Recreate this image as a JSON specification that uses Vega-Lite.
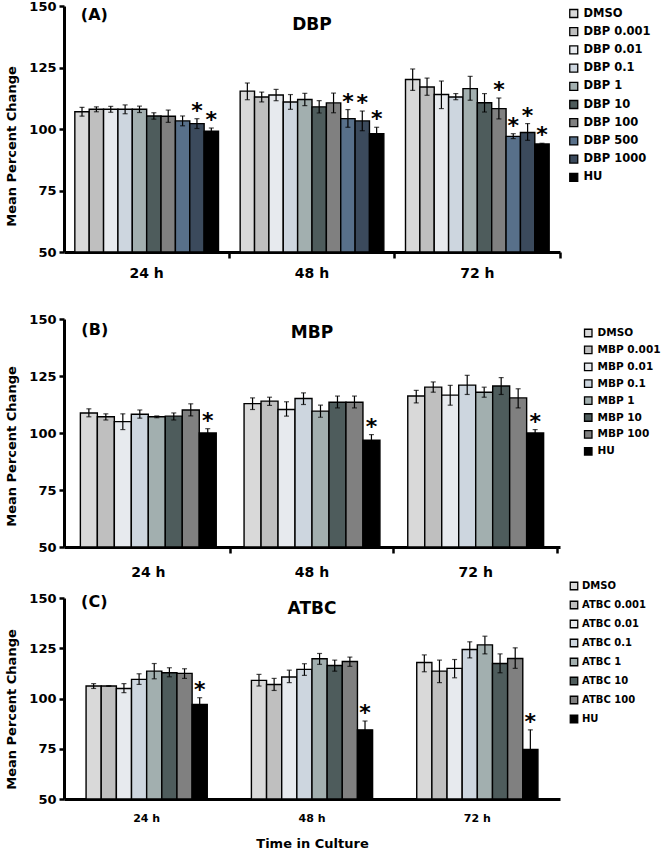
{
  "$schema": "https://vega.github.io/schema/vega-lite/v6.json",
  "background": "white",
  "padding": {"left": 5, "top": 0, "right": 0, "bottom": 0},
  "config": {
    "view": {"stroke": null},
    "axis": {"domainColor": "black", "tickColor": "black", "labelColor": "black", "titleColor": "black", "labelFont": "DejaVu Sans", "titleFont": "DejaVu Sans", "labelFontWeight": "bold", "titleFontWeight": "bold", "grid": false},
    "legend": {"labelFont": "DejaVu Sans", "labelFontWeight": "bold", "labelColor": "black", "symbolType": "square", "symbolStrokeColor": "black", "symbolStrokeWidth": 1.3, "padding": 0},
    "text": {"font": "DejaVu Sans", "fontWeight": "bold", "color": "black"}
  },
  "spacing": 67,
  "bounds": "flush",
  "resolve": {"scale": {"fill": "independent", "x": "independent", "xOffset": "independent", "y": "independent"}, "legend": {"fill": "independent"}},
  "vconcat": [
    {
      "width": 496, "height": 246,
      "data": {"values": [
        {"t": "24 h", "g": "DMSO", "m": 107, "lo": 105.2, "hi": 108.8, "s": false},
        {"t": "24 h", "g": "DBP 0.001", "m": 108, "lo": 107, "hi": 109, "s": false},
        {"t": "24 h", "g": "DBP 0.01", "m": 108, "lo": 106.8, "hi": 109.2, "s": false},
        {"t": "24 h", "g": "DBP 0.1", "m": 108, "lo": 106.2, "hi": 109.8, "s": false},
        {"t": "24 h", "g": "DBP 1", "m": 108, "lo": 106.7, "hi": 109.3, "s": false},
        {"t": "24 h", "g": "DBP 10", "m": 105.3, "lo": 104, "hi": 106.6, "s": false},
        {"t": "24 h", "g": "DBP 100", "m": 105.2, "lo": 102.7, "hi": 107.7, "s": false},
        {"t": "24 h", "g": "DBP 500", "m": 103.3, "lo": 101.3, "hi": 105.3, "s": false},
        {"t": "24 h", "g": "DBP 1000", "m": 102.2, "lo": 100.2, "hi": 104.2, "s": true},
        {"t": "24 h", "g": "HU", "m": 99.1, "lo": 97.8, "hi": 100.4, "s": true},
        {"t": "48 h", "g": "DMSO", "m": 115.4, "lo": 111.9, "hi": 118.7, "s": false},
        {"t": "48 h", "g": "DBP 0.001", "m": 113, "lo": 111, "hi": 115, "s": false},
        {"t": "48 h", "g": "DBP 0.01", "m": 113.8, "lo": 111.5, "hi": 116.1, "s": false},
        {"t": "48 h", "g": "DBP 0.1", "m": 111, "lo": 108, "hi": 114, "s": false},
        {"t": "48 h", "g": "DBP 1", "m": 112, "lo": 109.5, "hi": 114.5, "s": false},
        {"t": "48 h", "g": "DBP 10", "m": 109, "lo": 106.5, "hi": 111.5, "s": false},
        {"t": "48 h", "g": "DBP 100", "m": 110.6, "lo": 106.6, "hi": 114.6, "s": false},
        {"t": "48 h", "g": "DBP 500", "m": 104.2, "lo": 100.7, "hi": 107.9, "s": true},
        {"t": "48 h", "g": "DBP 1000", "m": 103.3, "lo": 99.3, "hi": 107.3, "s": true},
        {"t": "48 h", "g": "HU", "m": 98.1, "lo": 95.6, "hi": 100.7, "s": true},
        {"t": "72 h", "g": "DMSO", "m": 120.1, "lo": 115.7, "hi": 124.4, "s": false},
        {"t": "72 h", "g": "DBP 0.001", "m": 117.1, "lo": 113.7, "hi": 120.7, "s": false},
        {"t": "72 h", "g": "DBP 0.01", "m": 114, "lo": 108.3, "hi": 119.5, "s": false},
        {"t": "72 h", "g": "DBP 0.1", "m": 113, "lo": 111.9, "hi": 114.4, "s": false},
        {"t": "72 h", "g": "DBP 1", "m": 116.4, "lo": 111.7, "hi": 121.4, "s": false},
        {"t": "72 h", "g": "DBP 10", "m": 110.7, "lo": 106.9, "hi": 114.4, "s": false},
        {"t": "72 h", "g": "DBP 100", "m": 108.3, "lo": 104.1, "hi": 112.6, "s": true},
        {"t": "72 h", "g": "DBP 500", "m": 97, "lo": 96.1, "hi": 98.1, "s": true},
        {"t": "72 h", "g": "DBP 1000", "m": 98.6, "lo": 95.4, "hi": 102.2, "s": true},
        {"t": "72 h", "g": "HU", "m": 93.9, "lo": 93.6, "hi": 94.2, "s": true}
      ]},
      "layer": [
        {
          "mark": {"type": "bar", "stroke": "black", "strokeWidth": 1.4},
          "encoding": {
            "x": {"field": "t", "type": "nominal", "scale": {"paddingInner": 0.131, "paddingOuter": 0.0655},
                  "axis": {"title": null, "labelAngle": 0, "labelFontSize": 14, "labelPadding": 8, "tickSize": 6, "tickWidth": 2.5, "bandPosition": 1.0754, "domainWidth": 3}},
            "xOffset": {"field": "g", "type": "nominal", "scale": {"domain": ["DMSO", "DBP 0.001", "DBP 0.01", "DBP 0.1", "DBP 1", "DBP 10", "DBP 100", "DBP 500", "DBP 1000", "HU"], "paddingInner": 0, "paddingOuter": 0}},
            "y": {"field": "m", "type": "quantitative", "scale": {"domain": [50, 150], "nice": false, "zero": false},
                  "axis": {"values": [50, 75, 100, 125, 150], "title": "Mean Percent Change", "titleFontSize": 13, "titlePadding": 10, "titleY": 140, "labelFontSize": 13, "labelPadding": 3, "tickSize": 5, "tickWidth": 2.5, "domainWidth": 3}},
            "y2": {"datum": 50},
            "fill": {"field": "g", "type": "nominal",
                     "scale": {"domain": ["DMSO", "DBP 0.001", "DBP 0.01", "DBP 0.1", "DBP 1", "DBP 10", "DBP 100", "DBP 500", "DBP 1000", "HU"],
                               "range": ["#d9d9d9", "#bfbfbf", "#e7eaee", "#cdd6df", "#a2afaf", "#4e5c5c", "#808080", "#58708a", "#3b4a5c", "#000000"]},
                     "legend": {"orient": "none", "legendX": 504, "legendY": 1.5, "title": null, "symbolSize": 64, "labelFontSize": 11.5, "clipHeight": 12, "rowPadding": 6.2, "labelOffset": 4}}
          }
        },
        {
          "mark": {"type": "rule", "color": "black", "strokeWidth": 1.2},
          "encoding": {"x": {"field": "t", "type": "nominal"}, "xOffset": {"field": "g", "type": "nominal"}, "y": {"field": "lo", "type": "quantitative"}, "y2": {"field": "hi"}}
        },
        {
          "mark": {"type": "tick", "color": "black", "size": 5, "thickness": 1.2},
          "encoding": {"x": {"field": "t", "type": "nominal"}, "xOffset": {"field": "g", "type": "nominal"}, "y": {"field": "lo", "type": "quantitative"}}
        },
        {
          "mark": {"type": "tick", "color": "black", "size": 5, "thickness": 1.2},
          "encoding": {"x": {"field": "t", "type": "nominal"}, "xOffset": {"field": "g", "type": "nominal"}, "y": {"field": "hi", "type": "quantitative"}}
        },
        {
          "transform": [{"filter": "datum.s"}],
          "mark": {"type": "text", "text": "*", "fontSize": 22, "baseline": "alphabetic", "dy": -1},
          "encoding": {"x": {"field": "t", "type": "nominal"}, "xOffset": {"field": "g", "type": "nominal"}, "y": {"field": "hi", "type": "quantitative"}}
        },
        {
          "data": {"values": [{"l": "(A)"}]},
          "mark": {"type": "text", "fontSize": 16, "align": "left", "baseline": "top", "dx": 6, "dy": 1},
          "encoding": {"x": {"datum": "24 h", "bandPosition": 0}, "y": {"datum": 150, "type": "quantitative"}, "text": {"field": "l"}}
        },
        {
          "data": {"values": [{"l": "DBP"}]},
          "mark": {"type": "text", "fontSize": 17, "align": "center", "baseline": "top", "dy": 11},
          "encoding": {"x": {"datum": "48 h"}, "y": {"datum": 150, "type": "quantitative"}, "text": {"field": "l"}}
        }
      ]
    },
    {
      "spacing": 51,
      "bounds": "flush",
      "resolve": {"scale": {"fill": "independent", "x": "independent", "xOffset": "independent", "y": "independent"}, "legend": {"fill": "independent"}},
      "vconcat": [
        {
          "width": 496, "height": 228,
          "data": {"values": [
            {"t": "24 h", "g": "DMSO", "m": 108.8, "lo": 107.1, "hi": 110.6, "s": false},
            {"t": "24 h", "g": "MBP 0.001", "m": 107.1, "lo": 105.7, "hi": 108.4, "s": false},
            {"t": "24 h", "g": "MBP 0.01", "m": 105, "lo": 101.5, "hi": 108.4, "s": false},
            {"t": "24 h", "g": "MBP 0.1", "m": 108.2, "lo": 106.5, "hi": 110.1, "s": false},
            {"t": "24 h", "g": "MBP 1", "m": 107.1, "lo": 106.7, "hi": 107.5, "s": false},
            {"t": "24 h", "g": "MBP 10", "m": 107.4, "lo": 105.7, "hi": 108.8, "s": false},
            {"t": "24 h", "g": "MBP 100", "m": 110.1, "lo": 107.5, "hi": 112.8, "s": false},
            {"t": "24 h", "g": "HU", "m": 100, "lo": 98.1, "hi": 101.9, "s": true},
            {"t": "48 h", "g": "DMSO", "m": 112.9, "lo": 110.3, "hi": 115.4, "s": false},
            {"t": "48 h", "g": "MBP 0.001", "m": 114, "lo": 112.1, "hi": 115.7, "s": false},
            {"t": "48 h", "g": "MBP 0.01", "m": 110.3, "lo": 107.4, "hi": 113.7, "s": false},
            {"t": "48 h", "g": "MBP 0.1", "m": 115.1, "lo": 112.5, "hi": 117.6, "s": false},
            {"t": "48 h", "g": "MBP 1", "m": 109.6, "lo": 106.9, "hi": 112.2, "s": false},
            {"t": "48 h", "g": "MBP 10", "m": 113.5, "lo": 111, "hi": 116.2, "s": false},
            {"t": "48 h", "g": "MBP 100", "m": 113.5, "lo": 111, "hi": 116.2, "s": false},
            {"t": "48 h", "g": "HU", "m": 96.8, "lo": 94.3, "hi": 99.3, "s": true},
            {"t": "72 h", "g": "DMSO", "m": 116.2, "lo": 113.2, "hi": 118.7, "s": false},
            {"t": "72 h", "g": "MBP 0.001", "m": 120.1, "lo": 117.9, "hi": 122.4, "s": false},
            {"t": "72 h", "g": "MBP 0.01", "m": 116.6, "lo": 112.2, "hi": 120.9, "s": false},
            {"t": "72 h", "g": "MBP 0.1", "m": 121, "lo": 116.9, "hi": 125.3, "s": false},
            {"t": "72 h", "g": "MBP 1", "m": 117.9, "lo": 115.7, "hi": 120.1, "s": false},
            {"t": "72 h", "g": "MBP 10", "m": 120.6, "lo": 116.9, "hi": 124.3, "s": false},
            {"t": "72 h", "g": "MBP 100", "m": 115.4, "lo": 111, "hi": 119.4, "s": false},
            {"t": "72 h", "g": "HU", "m": 100, "lo": 98.5, "hi": 101.5, "s": true}
          ]},
          "layer": [
            {
              "mark": {"type": "bar", "stroke": "black", "strokeWidth": 1.4},
              "encoding": {
                "x": {"field": "t", "type": "nominal", "scale": {"paddingInner": 0.17, "paddingOuter": 0.1},
                      "axis": {"title": null, "labelAngle": 0, "labelFontSize": 14, "labelPadding": 12, "tickSize": 6, "tickWidth": 2.5, "bandPosition": 1.1025, "domainWidth": 3}},
                "xOffset": {"field": "g", "type": "nominal", "scale": {"domain": ["DMSO", "MBP 0.001", "MBP 0.01", "MBP 0.1", "MBP 1", "MBP 10", "MBP 100", "HU"], "paddingInner": 0, "paddingOuter": 0}},
                "y": {"field": "m", "type": "quantitative", "scale": {"domain": [50, 150], "nice": false, "zero": false},
                      "axis": {"values": [50, 75, 100, 125, 150], "title": "Mean Percent Change", "titleFontSize": 13, "titlePadding": 10, "titleY": 127, "labelFontSize": 13, "labelPadding": 3, "tickSize": 5, "tickWidth": 2.5, "domainWidth": 3}},
                "y2": {"datum": 50},
                "fill": {"field": "g", "type": "nominal",
                         "scale": {"domain": ["DMSO", "MBP 0.001", "MBP 0.01", "MBP 0.1", "MBP 1", "MBP 10", "MBP 100", "HU"],
                                   "range": ["#d9d9d9", "#bfbfbf", "#e7eaee", "#cdd6df", "#a2afaf", "#4e5c5c", "#808080", "#000000"]},
                         "legend": {"orient": "none", "legendX": 519, "legendY": 8.5, "title": null, "symbolSize": 56, "labelFontSize": 10.5, "clipHeight": 11, "rowPadding": 5.9, "labelOffset": 4}}
              }
            },
            {
              "mark": {"type": "rule", "color": "black", "strokeWidth": 1.2},
              "encoding": {"x": {"field": "t", "type": "nominal"}, "xOffset": {"field": "g", "type": "nominal"}, "y": {"field": "lo", "type": "quantitative"}, "y2": {"field": "hi"}}
            },
            {
              "mark": {"type": "tick", "color": "black", "size": 5, "thickness": 1.2},
              "encoding": {"x": {"field": "t", "type": "nominal"}, "xOffset": {"field": "g", "type": "nominal"}, "y": {"field": "lo", "type": "quantitative"}}
            },
            {
              "mark": {"type": "tick", "color": "black", "size": 5, "thickness": 1.2},
              "encoding": {"x": {"field": "t", "type": "nominal"}, "xOffset": {"field": "g", "type": "nominal"}, "y": {"field": "hi", "type": "quantitative"}}
            },
            {
              "transform": [{"filter": "datum.s"}],
              "mark": {"type": "text", "text": "*", "fontSize": 22, "baseline": "alphabetic", "dy": -1},
              "encoding": {"x": {"field": "t", "type": "nominal"}, "xOffset": {"field": "g", "type": "nominal"}, "y": {"field": "hi", "type": "quantitative"}}
            },
            {
              "data": {"values": [{"l": "(B)"}]},
              "mark": {"type": "text", "fontSize": 16, "align": "left", "baseline": "top", "dx": 1, "dy": 3},
              "encoding": {"x": {"datum": "24 h", "bandPosition": 0}, "y": {"datum": 150, "type": "quantitative"}, "text": {"field": "l"}}
            },
            {
              "data": {"values": [{"l": "MBP"}]},
              "mark": {"type": "text", "fontSize": 17, "align": "center", "baseline": "top", "dy": 6},
              "encoding": {"x": {"datum": "48 h"}, "y": {"datum": 150, "type": "quantitative"}, "text": {"field": "l"}}
            }
          ]
        },
        {
          "width": 496, "height": 201,
          "data": {"values": [
            {"t": "24 h", "g": "DMSO", "m": 106.2, "lo": 105, "hi": 107.4, "s": false},
            {"t": "24 h", "g": "ATBC 0.001", "m": 106.2, "lo": 106.1, "hi": 106.3, "s": false},
            {"t": "24 h", "g": "ATBC 0.01", "m": 105, "lo": 102.9, "hi": 107.4, "s": false},
            {"t": "24 h", "g": "ATBC 0.1", "m": 109.5, "lo": 107, "hi": 112.3, "s": false},
            {"t": "24 h", "g": "ATBC 1", "m": 113.6, "lo": 109.8, "hi": 117.4, "s": false},
            {"t": "24 h", "g": "ATBC 10", "m": 112.8, "lo": 110.8, "hi": 115.3, "s": false},
            {"t": "24 h", "g": "ATBC 100", "m": 112.5, "lo": 110, "hi": 114.8, "s": false},
            {"t": "24 h", "g": "HU", "m": 97.1, "lo": 93.8, "hi": 100.4, "s": true},
            {"t": "48 h", "g": "DMSO", "m": 109, "lo": 106.2, "hi": 112, "s": false},
            {"t": "48 h", "g": "ATBC 0.001", "m": 107, "lo": 104, "hi": 110, "s": false},
            {"t": "48 h", "g": "ATBC 0.01", "m": 110.7, "lo": 107.9, "hi": 114.1, "s": false},
            {"t": "48 h", "g": "ATBC 0.1", "m": 114.5, "lo": 111.5, "hi": 117.3, "s": false},
            {"t": "48 h", "g": "ATBC 1", "m": 119.8, "lo": 117, "hi": 122.4, "s": false},
            {"t": "48 h", "g": "ATBC 10", "m": 116.4, "lo": 113.6, "hi": 119.1, "s": false},
            {"t": "48 h", "g": "ATBC 100", "m": 118.4, "lo": 116, "hi": 120.6, "s": false},
            {"t": "48 h", "g": "HU", "m": 84.4, "lo": 80, "hi": 88.8, "s": true},
            {"t": "72 h", "g": "DMSO", "m": 117.9, "lo": 113.3, "hi": 121.7, "s": false},
            {"t": "72 h", "g": "ATBC 0.001", "m": 113.6, "lo": 107.9, "hi": 119.1, "s": false},
            {"t": "72 h", "g": "ATBC 0.01", "m": 115, "lo": 110.3, "hi": 119.4, "s": false},
            {"t": "72 h", "g": "ATBC 0.1", "m": 124.4, "lo": 120.2, "hi": 128.2, "s": false},
            {"t": "72 h", "g": "ATBC 1", "m": 126.7, "lo": 122.2, "hi": 131, "s": false},
            {"t": "72 h", "g": "ATBC 10", "m": 117.4, "lo": 112.8, "hi": 122.2, "s": false},
            {"t": "72 h", "g": "ATBC 100", "m": 119.9, "lo": 115, "hi": 125.2, "s": false},
            {"t": "72 h", "g": "HU", "m": 74.6, "lo": 64.8, "hi": 84.4, "s": true}
          ]},
          "layer": [
            {
              "mark": {"type": "bar", "stroke": "black", "strokeWidth": 1.4},
              "encoding": {
                "x": {"field": "t", "type": "nominal", "scale": {"paddingInner": 0.267, "paddingOuter": 0.1335},
                      "axis": {"title": "Time in Culture", "titleFontSize": 13, "titlePadding": 14, "labelAngle": 0, "labelFontSize": 11, "labelPadding": 13, "ticks": false, "domainWidth": 3}},
                "xOffset": {"field": "g", "type": "nominal", "scale": {"domain": ["DMSO", "ATBC 0.001", "ATBC 0.01", "ATBC 0.1", "ATBC 1", "ATBC 10", "ATBC 100", "HU"], "paddingInner": 0, "paddingOuter": 0}},
                "y": {"field": "m", "type": "quantitative", "scale": {"domain": [50, 150], "nice": false, "zero": false},
                      "axis": {"values": [50, 75, 100, 125, 150], "title": "Mean Percent Change", "titleFontSize": 13, "titlePadding": 10, "titleY": 111, "labelFontSize": 13, "labelPadding": 3, "tickSize": 5, "tickWidth": 2.5, "domainWidth": 3}},
                "y2": {"datum": 50},
                "fill": {"field": "g", "type": "nominal",
                         "scale": {"domain": ["DMSO", "ATBC 0.001", "ATBC 0.01", "ATBC 0.1", "ATBC 1", "ATBC 10", "ATBC 100", "HU"],
                                   "range": ["#d9d9d9", "#bfbfbf", "#e7eaee", "#cdd6df", "#a2afaf", "#4e5c5c", "#808080", "#000000"]},
                         "legend": {"orient": "none", "legendX": 505, "legendY": -17.5, "title": null, "symbolSize": 56, "labelFontSize": 10, "clipHeight": 11, "rowPadding": 8, "labelOffset": 3}}
              }
            },
            {
              "mark": {"type": "rule", "color": "black", "strokeWidth": 1.2},
              "encoding": {"x": {"field": "t", "type": "nominal"}, "xOffset": {"field": "g", "type": "nominal"}, "y": {"field": "lo", "type": "quantitative"}, "y2": {"field": "hi"}}
            },
            {
              "mark": {"type": "tick", "color": "black", "size": 5, "thickness": 1.2},
              "encoding": {"x": {"field": "t", "type": "nominal"}, "xOffset": {"field": "g", "type": "nominal"}, "y": {"field": "lo", "type": "quantitative"}}
            },
            {
              "mark": {"type": "tick", "color": "black", "size": 5, "thickness": 1.2},
              "encoding": {"x": {"field": "t", "type": "nominal"}, "xOffset": {"field": "g", "type": "nominal"}, "y": {"field": "hi", "type": "quantitative"}}
            },
            {
              "transform": [{"filter": "datum.s"}],
              "mark": {"type": "text", "text": "*", "fontSize": 22, "baseline": "alphabetic", "dy": -1},
              "encoding": {"x": {"field": "t", "type": "nominal"}, "xOffset": {"field": "g", "type": "nominal"}, "y": {"field": "hi", "type": "quantitative"}}
            },
            {
              "data": {"values": [{"l": "(C)"}]},
              "mark": {"type": "text", "fontSize": 16, "align": "left", "baseline": "top", "dx": -5, "dy": -4},
              "encoding": {"x": {"datum": "24 h", "bandPosition": 0}, "y": {"datum": 150, "type": "quantitative"}, "text": {"field": "l"}}
            },
            {
              "data": {"values": [{"l": "ATBC"}]},
              "mark": {"type": "text", "fontSize": 17, "align": "center", "baseline": "top", "dy": 3},
              "encoding": {"x": {"datum": "48 h"}, "y": {"datum": 150, "type": "quantitative"}, "text": {"field": "l"}}
            }
          ]
        }
      ]
    }
  ]
}
